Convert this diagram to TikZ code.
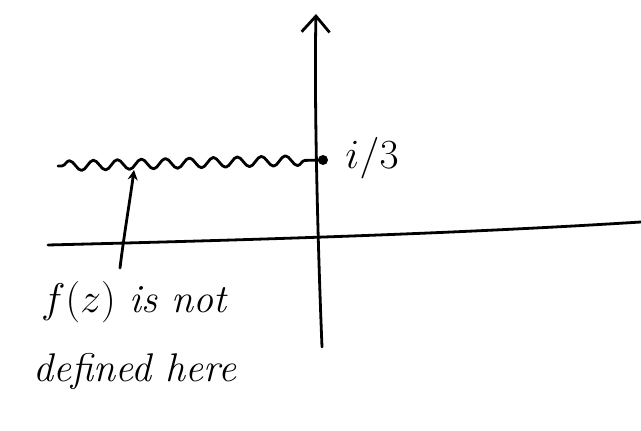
\documentclass[tikz,border=0pt]{standalone}
\usetikzlibrary{arrows.meta,decorations.pathmorphing}
\begin{document}
\begin{tikzpicture}[x=0.5pt,y=-0.5pt,
  pen/.style={line width=1.4pt,line cap=round,line join=round,black},
  hand/.style={font=\fontsize{20}{23}\selectfont\itshape,inner sep=0pt}]
\useasboundingbox (0,0) rectangle (641,431);
% coordinates
\coordinate (reL) at (48,245);
\coordinate (reR) at (641,222);
\coordinate (imB) at (322,347);
\coordinate (imT) at (316,14);
\coordinate (cutL) at (58,166);
\coordinate (cutR) at (323,160);
\coordinate (ptB) at (120,268);
\coordinate (ptT) at (134,170);
% real axis
\draw[pen] (reL) .. controls (250,240) and (450,234) .. (reR);
% imaginary axis
\draw[pen,-{Straight Barb[length=8pt,width=14pt,line width=1.4pt]}] (imB) .. controls (318,250) and (314,100) .. (imT);
% branch cut
\draw[pen,decorate,decoration={snake,amplitude=2.5pt,segment length=12pt,pre length=2pt,post length=4pt}] (cutL) -- (cutR);
\fill (cutR) circle (2.5pt);
\node[hand,anchor=west] (lab) at (345,158) {$i/3$};
% pointer
\draw[pen,-{Stealth[length=5pt,width=5pt]}] (ptB) .. controls (124,235) and (130,200) .. (ptT);
% text
\node[hand] (t1) at (134,302) {$f(z)$ is not};
\node[hand] (t2) at (135,372) {defined here};
\end{tikzpicture}
\end{document}
